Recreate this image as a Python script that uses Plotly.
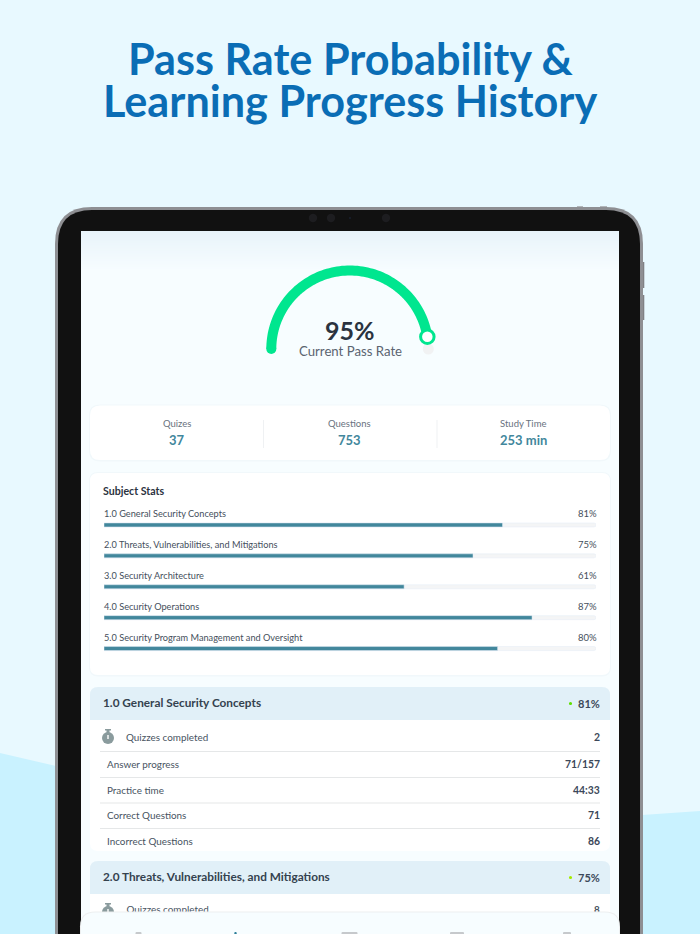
import plotly.graph_objects as go

W = 700
H = 934

# values
title_lines = ["Pass Rate Probability &", "Learning Progress History"]
pass_rate = 95
stat_names = ["Quizes", "Questions", "Study Time"]
stat_values = ["37", "753", "253 min"]
subjects = ["1.0 General Security Concepts", "2.0 Threats, Vulnerabilities, and Mitigations",
            "3.0 Security Architecture", "4.0 Security Operations",
            "5.0 Security Program Management and Oversight"]
subject_scores = [81, 75, 61, 87, 80]
row_names = ["Quizzes completed", "Answer progress", "Practice time", "Correct Questions", "Incorrect Questions"]
row_values = ["2", "71/157", "44:33", "71", "86"]
second_row_value = "8"

INK = "#2B3340"
TEAL = "#42879C"
ROW_TEXT = "#47535F"
VALUE_TEXT = "#3C4859"
FONT = "Lato"


def rounded(x0, y0, x1, y1, tl=0, tr=0, br=0, bl=0):
    return (f"M{x0+tl},{y0} L{x1-tr},{y0} Q{x1},{y0} {x1},{y0+tr} L{x1},{y1-br} Q{x1},{y1} {x1-br},{y1} "
            f"L{x0+bl},{y1} Q{x0},{y1} {x0},{y1-bl} L{x0},{y0+tl} Q{x0},{y0} {x0+tl},{y0} Z")


shapes = []
annotations = []


def box(x0, y0, x1, y1, color, r=(0, 0, 0, 0), layer="below", opacity=1):
    shapes.append(dict(type="path", path=rounded(x0, y0, x1, y1, *r), fillcolor=color, line_width=0,
                       xref="x", yref="y", layer=layer, opacity=opacity))


def line(x0, y0, x1, y1, color, width=1, layer="below"):
    shapes.append(dict(type="line", x0=x0, y0=y0, x1=x1, y1=y1, xref="x", yref="y",
                       line=dict(color=color, width=width), layer=layer))


def dot(cx, cy, r, color, layer="below"):
    shapes.append(dict(type="circle", x0=cx-r, y0=cy-r, x1=cx+r, y1=cy+r, xref="x", yref="y",
                       fillcolor=color, line_width=0, layer=layer))


def text(x, y, s, size, color, anchor="left", bold=False):
    # annotations carry a small pad, take it back so the anchors land where measured
    shift = {"left": -2.2, "right": 2.2, "center": 0}[anchor]
    annotations.append(dict(x=x, y=y, text=f"<b>{s}</b>" if bold else s, xref="x", yref="y", showarrow=False,
                            xanchor=anchor, yanchor="middle", xshift=shift, yshift=0.4,
                            font=dict(family=FONT, size=size, color=color)))


def watch(cx, cy):
    dot(cx, cy + 1, 6, "#8A9B9D")
    box(cx - 1.5, cy - 7, cx + 1.5, cy - 4, "#8A9B9D")
    box(cx - 3, cy - 8, cx + 3, cy - 6.5, "#8A9B9D")
    box(cx - 0.7, cy - 2, cx + 0.7, cy + 2, "#FFFFFF")


# page background
shapes.append(dict(type="path", path="M0,753 L56,766 L56,934 L0,934 Z", fillcolor="#C9F2FF", line_width=0,
                   xref="x", yref="y", layer="below"))
shapes.append(dict(type="path", path="M642,815 L700,811 L700,934 L642,934 Z", fillcolor="#C9F2FF", line_width=0,
                   xref="x", yref="y", layer="below"))

# tablet body
box(642, 262, 644.3, 288, "#808185")
box(642, 295, 644.3, 320, "#808185")
box(577, 206.3, 583, 209, "#A0A1A5")
box(600, 206.3, 607, 209, "#A0A1A5")
box(55, 207, 643, 960, "#8E8F93", r=(37, 37, 0, 0))
box(58, 210, 640, 960, "#111111", r=(34, 34, 0, 0))
for cam_x in [313, 331, 386]:
    dot(cam_x, 218, 4.2, "#1D1D20")
dot(350, 218, 0.7, "#23304F")

# screen with the soft band on top
box(81, 231, 619, 934, "#F7FDFF")
band_top = (232, 243, 250)
band_end = (247, 253, 255)
for i in range(40):
    t = i / 39
    col = tuple(round(a + (b - a) * t) for a, b in zip(band_top, band_end))
    box(81, 231 + i, 619, 232 + i, "rgb(%d,%d,%d)" % col)

# stats card
box(89, 404.5, 611, 461.5, "#F1F8FB", r=(11, 11, 11, 11))
box(90, 405.5, 610, 460, "#FFFFFF", r=(10, 10, 10, 10))
line(263.5, 420, 263.5, 448, "#EFF1F3")
line(437, 420, 437, 448, "#EFF1F3")
for cx, name, val in zip([176.5, 349.5, 523], stat_names, stat_values):
    text(cx, 423.5, name, 9.5, "#69727E", "center")
    text(cx, 440, val, 13, TEAL, "center", bold=True)

# subject card
box(89, 472, 611, 676.5, "#F1F8FB", r=(9, 9, 9, 9))
box(90, 473, 610, 675, "#FFFFFF", r=(8, 8, 8, 8))
text(103.5, 491, "Subject Stats", 10.6, INK, bold=True)
for i, (name, score) in enumerate(zip(subjects, subject_scores)):
    y = 514 + i * 30.9
    text(104, y, name, 9.2, "#454F5C")
    text(596.5, y, f"{score}%", 9.5, "#454F5C", "right")

# section cards
box(90, 720, 610, 851, "#FFFFFF", r=(0, 0, 8, 8))
box(90, 687, 610, 720, "#E1F0F8", r=(8, 8, 0, 0))
box(90, 861, 610, 894, "#E1F0F8", r=(8, 8, 0, 0))
box(90, 894, 610, 934, "#FFFFFF")
text(103.5, 703, subjects[0], 11.8, "#34424F", bold=True)
text(103.5, 877, subjects[1], 11.8, "#34424F", bold=True)
text(599.5, 703.5, f"{subject_scores[0]}%", 11, VALUE_TEXT, "right", bold=True)
text(599.5, 877.5, f"{subject_scores[1]}%", 11, VALUE_TEXT, "right", bold=True)
dot(570.5, 703.5, 1.6, "#5FE000")
dot(570.5, 877.5, 1.6, "#A5EC00")

row_y = [737, 764, 790, 815.5, 841]
for y in [751.5, 777.5, 803, 828.5]:
    line(100, y, 600, y, "#E5E7E8", 1.2)
for i, (y, name, val) in enumerate(zip(row_y, row_names, row_values)):
    text(126.5 if i == 0 else 107, y, name, 9.9, ROW_TEXT)
    text(599.5, y, val, 10.4, VALUE_TEXT, "right", bold=True)
watch(108, 737)
watch(108, 911)

# bottom nav sits above the second row, cuts it off
box(80, 911.5, 620, 940, "#EDEFF0", r=(15, 15, 0, 0), layer="above")
box(81, 912.5, 619, 940, "#F7FDFF", r=(14, 14, 0, 0), layer="above")
for nav_x, w in [(138.5, 3), (235.5, 1.2), (349.5, 8), (457, 7), (567, 4)]:
    color = "#2F7F99" if nav_x == 235.5 else "#C6C9CC"
    box(nav_x - w, 932, nav_x + w, 934, color, r=(1, 1, 0, 0), layer="above")

# heading
text(350, 58, title_lines[0], 43.2, "#0A6DB5", "center", bold=True)
text(350, 100.5, title_lines[1], 43.2, "#0A6DB5", "center", bold=True)

# gauge label
text(350, 330, f"{pass_rate}%", 25, INK, "center", bold=True)
text(350, 351, "Current Pass Rate", 13.2, "#5B6470", "center")

fig = go.Figure()

# clipped row goes in as a trace so the nav shape can cover it
fig.add_trace(go.Scatter(x=[126.5, 594], y=[911, 911], mode="text", text=[row_names[0], "<b>" + second_row_value + "</b>"],
                         textposition=["middle right", "middle right"], cliponaxis=False, hoverinfo="skip",
                         textfont=dict(family=FONT, size=9.9, color=ROW_TEXT), showlegend=False,
                         xaxis="x", yaxis="y"))

# subject bars, track first then score
fig.add_trace(go.Bar(y=subjects, x=[100] * len(subjects), orientation="h", marker=dict(color="#F4F5F6"),
                     width=0.13, xaxis="x2", yaxis="y2", showlegend=False, hoverinfo="skip"))
fig.add_trace(go.Bar(y=subjects, x=subject_scores, orientation="h", marker=dict(color=TEAL),
                     width=0.13, xaxis="x2", yaxis="y2", showlegend=False))

# gauge: half circle, 0% on the left and 100% on the right
gauge_theta = [180 - 180 * p / 100 for p in range(0, pass_rate + 1)]
fig.add_trace(go.Scatterpolar(r=[1], theta=[0], mode="markers", marker=dict(size=11, color="#F1F2F3"),
                              cliponaxis=False, showlegend=False, hoverinfo="skip"))
fig.add_trace(go.Scatterpolar(r=[1] * len(gauge_theta), theta=gauge_theta, mode="lines",
                              line=dict(color="#00E68F", width=10), cliponaxis=False, showlegend=False,
                              hoverinfo="skip"))
fig.add_trace(go.Scatterpolar(r=[1], theta=[gauge_theta[0]], mode="markers", marker=dict(size=10, color="#00E68F"),
                              cliponaxis=False, showlegend=False, hoverinfo="skip"))
fig.add_trace(go.Scatterpolar(r=[1], theta=[gauge_theta[-1]], mode="markers",
                              marker=dict(size=13.5, color="#FFFFFF", line=dict(color="#00E68F", width=3)),
                              cliponaxis=False, showlegend=False, hoverinfo="skip"))

hidden = dict(visible=False, fixedrange=True)
gauge_cx, gauge_cy, gauge_r = 349.8, 349, 78.5
gauge_pad = 1.2  # radial room so the thick line is not cut at r=1

fig.update_layout(
    width=W,
    height=H,
    margin=dict(l=0, r=0, t=0, b=0),
    paper_bgcolor="#E8F9FF",
    plot_bgcolor="rgba(0,0,0,0)",
    showlegend=False,
    barmode="overlay",
    shapes=shapes,
    annotations=annotations,
    xaxis=dict(range=[0, W], domain=[0, 1], **hidden),
    yaxis=dict(range=[H, 0], domain=[0, 1], **hidden),
    xaxis2=dict(range=[0, 100], domain=[104 / W, 596 / W], anchor="y2", **hidden),
    yaxis2=dict(autorange="reversed", domain=[1 - 664 / H, 1 - 509.5 / H], anchor="x2", **hidden),
    barcornerradius=2,
    polar=dict(
        domain=dict(x=[(gauge_cx - gauge_r * gauge_pad) / W, (gauge_cx + gauge_r * gauge_pad) / W],
                    y=[1 - (gauge_cy + gauge_r * gauge_pad) / H, 1 - (gauge_cy - gauge_r * gauge_pad) / H]),
        bgcolor="rgba(0,0,0,0)",
        radialaxis=dict(visible=False, range=[0, gauge_pad]),
        angularaxis=dict(visible=False),
    ),
)

fig.write_html("out.html", post_script="document.body.style.margin='0';document.body.style.overflow='hidden';",
               config=dict(displayModeBar=False))
